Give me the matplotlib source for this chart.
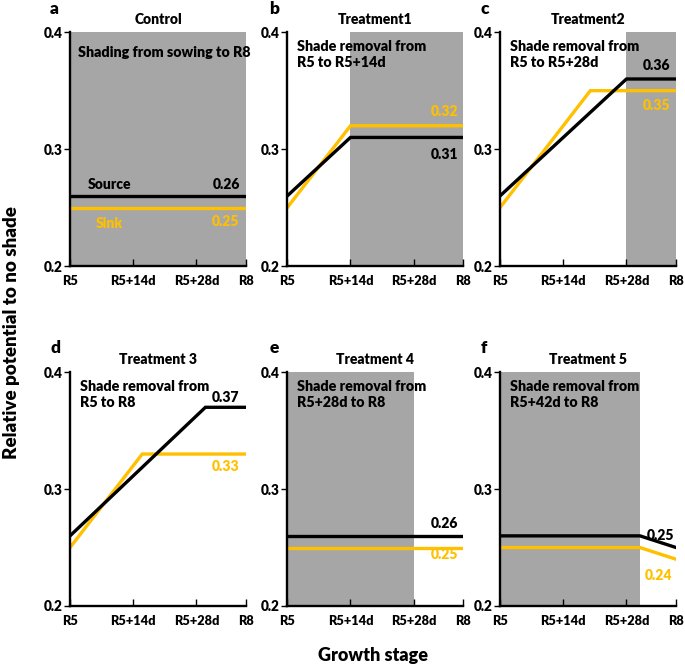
import matplotlib
matplotlib.use("Agg")
import matplotlib.pyplot as plt

plt.rcParams['font.family'] = ['Lato', 'DejaVu Sans']
plt.rcParams['font.weight'] = 'heavy'
WEIGHT = 'heavy'

SOURCE_COLOUR = "black"
SINK_COLOUR = "#FFC000"
SHADE_COLOUR = "#A6A6A6"

stages = ["R5", "R5+14d", "R5+28d", "R8"]
stage_pos = [0, 14, 28, 39]

panel_letters = ["a", "b", "c", "d", "e", "f"]
titles = ["Control", "Treatment1", "Treatment2", "Treatment 3", "Treatment 4", "Treatment 5"]
notes = ["Shading from sowing to R8",
         "Shade removal from\nR5 to R5+14d",
         "Shade removal from\nR5 to R5+28d",
         "Shade removal from\nR5 to R8",
         "Shade removal from\nR5+28d to R8",
         "Shade removal from\nR5+42d to R8"]

# shaded period (start, end) on the stage axis, None = no shade
shade_a = (0, 39)
shade_b = (14, 39)
shade_c = (28, 39)
shade_d = None
shade_e = (0, 28)
shade_f = (0, 31)

source_x_a = [0, 39]
source_y_a = [0.26, 0.26]
sink_x_a = [0, 39]
sink_y_a = [0.25, 0.25]

source_x_b = [0, 14, 39]
source_y_b = [0.26, 0.31, 0.31]
sink_x_b = [0, 14, 39]
sink_y_b = [0.25, 0.32, 0.32]

source_x_c = [0, 28, 39]
source_y_c = [0.26, 0.36, 0.36]
sink_x_c = [0, 20, 39]
sink_y_c = [0.25, 0.35, 0.35]

source_x_d = [0, 30, 39]
source_y_d = [0.26, 0.37, 0.37]
sink_x_d = [0, 16, 39]
sink_y_d = [0.25, 0.33, 0.33]

source_x_e = [0, 39]
source_y_e = [0.26, 0.26]
sink_x_e = [0, 39]
sink_y_e = [0.25, 0.25]

source_x_f = [0, 31, 39]
source_y_f = [0.26, 0.26, 0.25]
sink_x_f = [0, 31, 39]
sink_y_f = [0.25, 0.25, 0.24]

panels = [
    (shade_a, source_x_a, source_y_a, sink_x_a, sink_y_a),
    (shade_b, source_x_b, source_y_b, sink_x_b, sink_y_b),
    (shade_c, source_x_c, source_y_c, sink_x_c, sink_y_c),
    (shade_d, source_x_d, source_y_d, sink_x_d, sink_y_d),
    (shade_e, source_x_e, source_y_e, sink_x_e, sink_y_e),
    (shade_f, source_x_f, source_y_f, sink_x_f, sink_y_f),
]

# label placement: (x, y, ha) for source label and sink label
label_pos = [
    ((37.6, 0.2695, 'right'), (37.6, 0.2385, 'right')),
    ((37.9, 0.2958, 'right'), (37.9, 0.3318, 'right')),
    ((37.8, 0.3718, 'right'), (37.8, 0.3372, 'right')),
    ((37.6, 0.3788, 'right'), (37.6, 0.3196, 'right')),
    ((37.9, 0.2703, 'right'), (37.9, 0.2438, 'right')),
    ((32.4, 0.2603, 'left'), (38.2, 0.2262, 'right')),
]

fig = plt.figure(figsize=(6.85, 6.66), dpi=100)
lefts = [0.1022, 0.4194, 0.7300]
bottoms = [0.6006, 0.0901]
width = 0.257
height = 0.351
letter_x = [0.073, 0.393, 0.702]
letter_y = [0.986, 0.477]

for i, (shade, sx, sy, kx, ky) in enumerate(panels):
    row, col = divmod(i, 3)
    ax = fig.add_axes([lefts[col], bottoms[row], width, height])
    if shade is not None:
        ax.axvspan(shade[0], shade[1], color=SHADE_COLOUR, lw=0, zorder=0)
    ax.plot(kx, ky, c=SINK_COLOUR, lw=2.4, zorder=2, solid_joinstyle='miter')
    ax.plot(sx, sy, c=SOURCE_COLOUR, lw=2.4, zorder=3, solid_joinstyle='miter')
    ax.set_xlim(0, 39)
    ax.set_ylim(0.2, 0.4)
    ax.set_xticks(stage_pos)
    ax.set_xticklabels(stages)
    ax.set_yticks([0.2, 0.3, 0.4])
    ax.set_yticklabels(["0.2", "0.3", "0.4"])
    ax.tick_params(axis='x', direction='in', length=5, width=1, pad=6.5, labelsize=9.2)
    ax.tick_params(axis='y', direction='out', length=4, width=1, pad=1.5, labelsize=9.8)
    for side in ['top', 'right']:
        ax.spines[side].set_visible(False)
    for side in ['left', 'bottom']:
        ax.spines[side].set_linewidth(1.7)
        ax.spines[side].set_zorder(5)
    ax.set_title(titles[i], fontsize=10, fontweight=WEIGHT, pad=6)

    if i == 0:
        ax.text(1.8, 0.383, notes[i], fontsize=10.3, fontweight=WEIGHT, va='center', ha='left')
        ax.text(8.7, 0.2695, "Source", fontsize=10, fontweight=WEIGHT, color=SOURCE_COLOUR, ha='center', va='center')
        ax.text(8.7, 0.2365, "Sink", fontsize=10, fontweight=WEIGHT, color=SINK_COLOUR, ha='center', va='center')
    else:
        ax.text(2.2, 0.393, notes[i], fontsize=10.3, fontweight=WEIGHT, va='top', ha='left', linespacing=1.25)

    (s_x, s_y, s_ha), (k_x, k_y, k_ha) = label_pos[i]
    ax.text(s_x, s_y, "%.2f" % sy[-1], fontsize=10, fontweight=WEIGHT, color=SOURCE_COLOUR, ha=s_ha, va='center', zorder=6)
    ax.text(k_x, k_y, "%.2f" % ky[-1], fontsize=10, fontweight=WEIGHT, color=SINK_COLOUR, ha=k_ha, va='center', zorder=6)

    fig.text(letter_x[col], letter_y[row], panel_letters[i], fontsize=12.5, fontweight=WEIGHT, ha='left', va='center')

fig.text(0.0175, 0.5, "Relative potential to no shade", rotation=90, fontsize=13.5,
         fontweight=WEIGHT, ha='center', va='center')
fig.text(0.545, 0.0165, "Growth stage", fontsize=13, fontweight=WEIGHT, ha='center', va='center')

fig.savefig("out.png", dpi=100)
